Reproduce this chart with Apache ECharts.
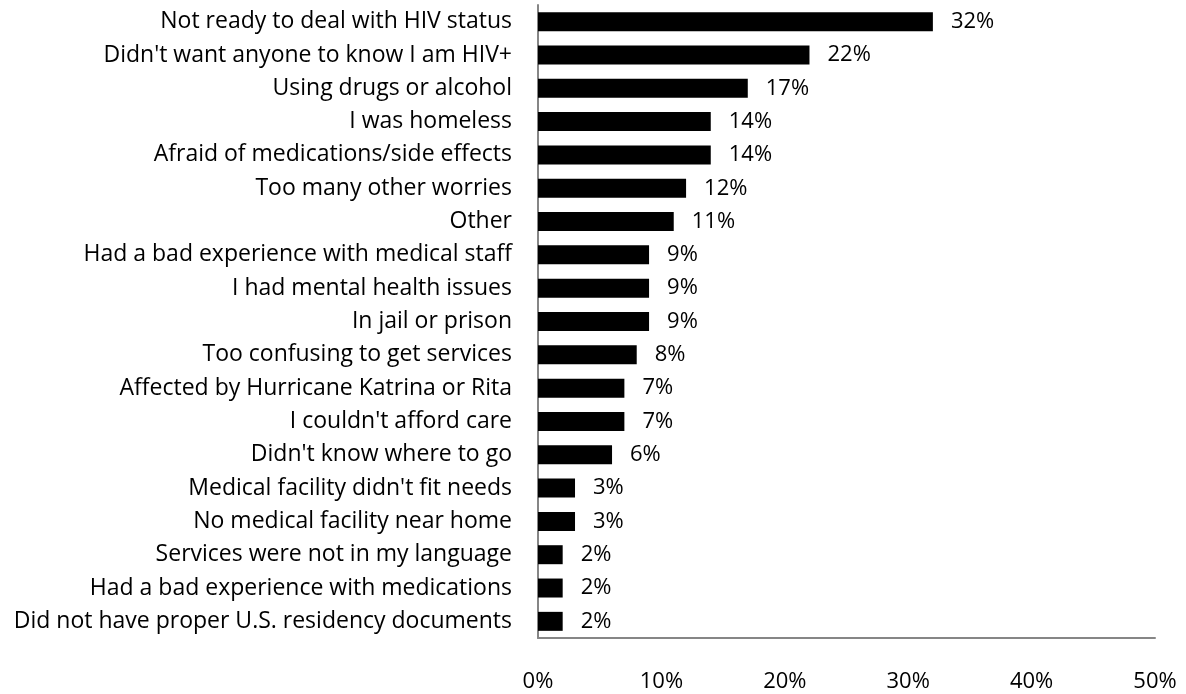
<!DOCTYPE html>
<html>
<head>
<meta charset="utf-8">
<script src="https://cdn.jsdelivr.net/npm/echarts@6/dist/echarts.min.js"></script>
<style>
  html, body { margin: 0; padding: 0; background: #fff; }
  #chart { width: 1186px; height: 694px; }
</style>
</head>
<body>
<div id="chart"></div>
<script>
// Reasons for not getting HIV care (percent of respondents)
const categories = [
  "Not ready to deal with HIV status",
  "Didn't want anyone to know I am HIV+",
  "Using drugs or alcohol",
  "I was homeless",
  "Afraid of medications/side effects",
  "Too many other worries",
  "Other",
  "Had a bad experience with medical staff",
  "I had mental health issues",
  "In jail or prison",
  "Too confusing to get services",
  "Affected by Hurricane Katrina or Rita",
  "I couldn't afford care",
  "Didn't know where to go",
  "Medical facility didn't fit needs",
  "No medical facility near home",
  "Services were not in my language",
  "Had a bad experience with medications",
  "Did not have proper U.S. residency documents"
];
const percentValues = [32, 22, 17, 14, 14, 12, 11, 9, 9, 9, 8, 7, 7, 6, 3, 3, 2, 2, 2];
const axisMin = 0;
const axisMax = 50;
const axisStep = 10;

const fontFamily = "'Open Sans', 'Noto Sans', sans-serif";
const chart = echarts.init(document.getElementById('chart'), null, { renderer: 'canvas' });

chart.setOption({
  animation: false,
  backgroundColor: '#ffffff',
  grid: { left: 538, right: 31, top: 5, bottom: 56, containLabel: false },
  xAxis: {
    type: 'value',
    min: axisMin,
    max: axisMax,
    interval: axisStep,
    axisLine: { show: true, lineStyle: { color: '#868686', width: 2 } },
    axisTick: { show: false },
    splitLine: { show: false },
    axisLabel: {
      margin: 33,
      color: '#000',
      fontFamily: fontFamily,
      fontSize: 22,
      formatter: v => v + '%'
    }
  },
  yAxis: {
    type: 'category',
    data: categories,
    inverse: true,
    axisLine: { show: true, lineStyle: { color: '#868686', width: 2 } },
    axisTick: { show: false },
    axisLabel: {
      margin: 26,
      color: '#000',
      fontFamily: fontFamily,
      fontSize: 23,
      padding: [3, 0, 0, 0]
    }
  },
  series: [{
    type: 'bar',
    data: percentValues,
    barCategoryGap: '43%',
    itemStyle: { color: '#000' },
    label: {
      show: true,
      position: 'right',
      distance: 18,
      color: '#000',
      fontFamily: fontFamily,
      fontSize: 22,
      padding: [3, 0, 0, 0],
      formatter: p => p.value + '%'
    }
  }]
});
</script>
</body>
</html>
